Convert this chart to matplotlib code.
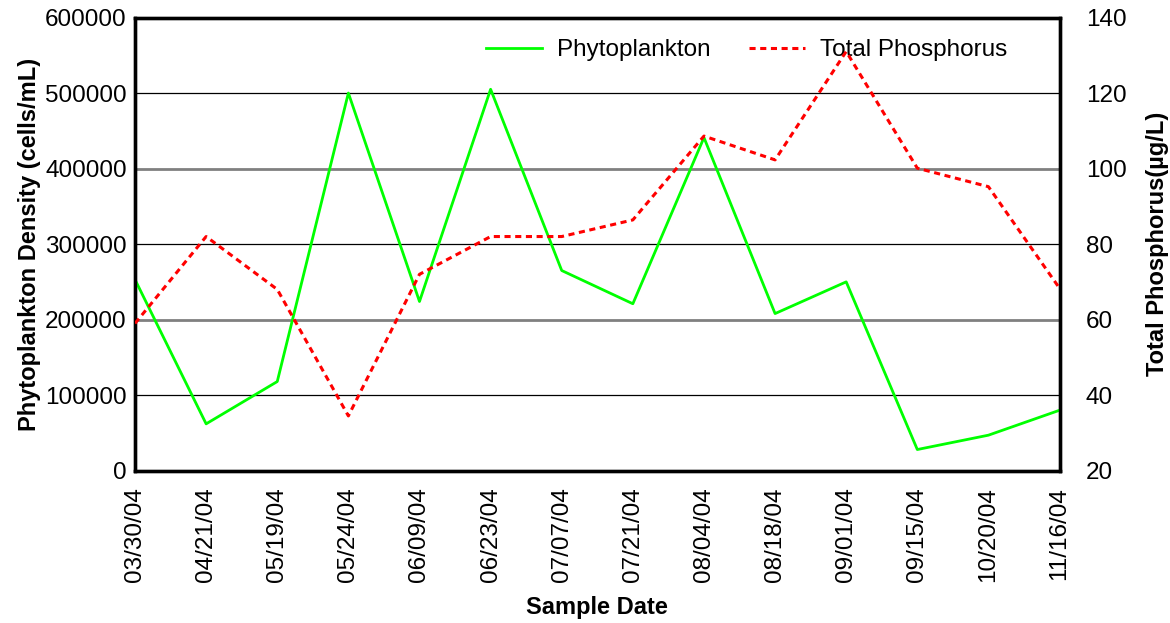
import matplotlib
matplotlib.use('Agg')
import matplotlib.pyplot as plt

plt.rcParams['font.family'] = ['Liberation Sans', 'DejaVu Sans']

dates = ['03/30/04', '04/21/04', '05/19/04', '05/24/04', '06/09/04', '06/23/04', '07/07/04',
         '07/21/04', '08/04/04', '08/18/04', '09/01/04', '09/15/04', '10/20/04', '11/16/04']
phyto = [253000, 62000, 118000, 500000, 224000, 505000, 265000,
         221000, 441000, 208000, 250000, 28000, 47000, 80000]
phos = [59, 82, 68, 34.5, 72, 82, 82, 86.4, 108.6, 102.3, 131, 100.1, 95.2, 68.3]

left_ticks = [0, 100000, 200000, 300000, 400000, 500000, 600000]
right_ticks = [20, 40, 60, 80, 100, 120, 140]

fig = plt.figure(figsize=(11.7, 6.23), dpi=100)
ax = fig.add_axes([0.1154, 0.2445, 0.7902, 0.7274])
ax2 = ax.twinx()

x = list(range(len(dates)))

# grid: black on odd steps, grey on even ones
for i, t in enumerate(left_ticks[1:-1]):
    if i % 2 == 0:
        ax.axhline(t, color='black', lw=0.9, zorder=0)
    else:
        ax.axhline(t, color='#808080', lw=2.0, zorder=0)

l1, = ax.plot(x, phyto, color='#00ff00', lw=2.0, label='Phytoplankton', zorder=3)
l2, = ax2.plot(x, phos, color='red', lw=2.2, linestyle=(0, (2.0, 1.5)),
               label='Total Phosphorus', zorder=3)

ax.set_xlim(0, len(dates) - 1)
ax.set_ylim(0, 600000)
ax2.set_ylim(20, 140)
ax.set_yticks(left_ticks)
ax.set_yticklabels([str(t) for t in left_ticks])
ax2.set_yticks(right_ticks)
ax.set_xticks(x)
ax.set_xticklabels(dates, rotation=90)

ax.tick_params(axis='y', length=0, labelsize=17.5, pad=6)
ax.tick_params(axis='x', length=0, labelsize=17.5, pad=12)
ax2.tick_params(axis='y', length=0, labelsize=17.5, pad=19)

for a in (ax, ax2):
    for s in a.spines.values():
        s.set_linewidth(2.4)
        s.set_color('black')

ax.set_xlabel('Sample Date', fontsize=17, fontweight='bold', labelpad=10)
ax.set_ylabel('Phytoplankton Density (cells/mL)', fontsize=17, fontweight='bold', labelpad=3)
ax2.set_ylabel('Total Phosphorus(µg/L)', fontsize=17, fontweight='bold', labelpad=14)

ax.legend([l1, l2], ['Phytoplankton', 'Total Phosphorus'], loc='upper right',
          bbox_to_anchor=(0.967, 1.0), ncol=2, frameon=False, fontsize=17.5,
          handlelength=2.3, columnspacing=1.6, handletextpad=0.6)

fig.savefig('out.png', dpi=100)
